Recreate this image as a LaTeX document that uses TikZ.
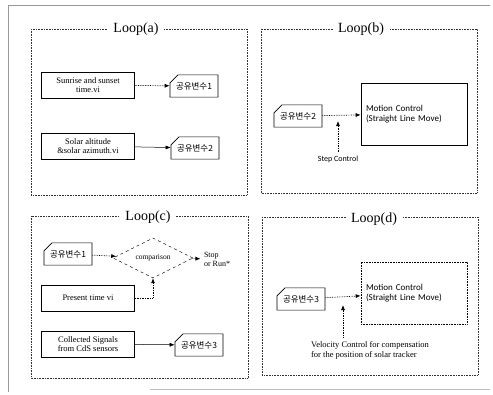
\documentclass[tikz,border=0pt]{standalone}
\usepackage{fontspec}
\setmainfont{Liberation Serif}
\newfontfamily\krfont{Noto Sans CJK KR}
\newfontfamily\calfont{Carlito}
\usetikzlibrary{positioning,shapes.geometric,shapes.misc,arrows.meta}

\tikzset{
  loopframe/.style={draw=black!80, densely dotted, line width=0.6pt},
  looptitle/.style={fill=white, inner xsep=5pt, font=\fontsize{14}{14}\selectfont},
  vibox/.style={draw, line width=0.6pt, minimum width=93pt, minimum height=26pt,
    align=center, inner sep=1pt, font=\fontsize{8.5}{9.5}\selectfont},
  shvar/.style={draw, line width=0.6pt, chamfered rectangle,
    chamfered rectangle corners=north west, chamfered rectangle xsep=4pt,
    chamfered rectangle ysep=4pt, inner xsep=2pt, minimum height=22pt,
    font=\krfont\fontsize{8.5}{9}\selectfont},
  motionbox/.style={draw, line width=0.6pt, minimum width=106pt, minimum height=62pt,
    text width=96pt, align=left, font=\calfont\fontsize{9}{10.5}\selectfont},
  flow/.style={densely dotted, line width=0.7pt, -{Latex[length=5pt,width=4pt]}},
  solidflow/.style={line width=0.5pt, -{Latex[length=5pt,width=4pt]}}
}

\begin{document}
\begin{tikzpicture}[x=1pt,y=-1pt]
    \useasboundingbox (0,0) rectangle (493,394);

    % outer frame
    \draw[gray!80, line width=0.8pt] (490,5) -- (8,5) -- (8,392);
    \draw[gray!50, line width=0.8pt] (150,389) -- (490,389);

    % Loop(a)
    \draw[loopframe] (31,29) rectangle (247,195);
    \node[looptitle] (ta) at (136,29) {Loop(a)};
    \node[vibox] (sunrise) at (88,85) {Sunrise and sunset\\time.vi};
    \node[shvar] (varA1) at (194,86) {공유변수1};
    \node[vibox] (solar) at (88,146) {Solar altitude\\\&solar azimuth.vi};
    \node[shvar] (varA2) at (195,148) {공유변수2};
    \draw[flow] (sunrise) -- (varA1);
    \draw[solidflow] (solar) -- (varA2);

    % Loop(b)
    \draw[loopframe] (261,29) rectangle (477,193);
    \node[looptitle] (tb) at (361,29) {Loop(b)};
    \node[shvar] (varB2) at (298,116) {공유변수2};
    \node[motionbox] (moveB) at (414,114) {Motion Control\\(Straight Line Move)};
    \node[font=\calfont\fontsize{8}{8}\selectfont] (stepctl) at (338,159) {Step Control};
    \coordinate (stepin) at (338,121);
    \draw[flow] (varB2) -- (moveB);
    \draw[flow] (stepctl) -- (stepin);

    % Loop(c)
    \draw[loopframe] (31,216) rectangle (248,378);
    \node[looptitle] (tc) at (148,217) {Loop(c)};
    \node[shvar] (varC1) at (68,254) {공유변수1};
    \node[draw, dashed, diamond, aspect=2.6, inner sep=1pt, minimum width=80pt,
      minimum height=40pt, font=\fontsize{7.5}{8}\selectfont] (cmp) at (153,258) {comparison};
    \node[align=left, font=\fontsize{8}{9}\selectfont] (stop) at (217,259) {Stop\\or Run*};
    \node[vibox] (present) at (88,298) {Present time vi};
    \node[vibox] (collect) at (88,344) {Collected Signals\\from CdS sensors};
    \node[shvar] (varC3) at (199,345) {공유변수3};
    \draw[flow] (varC1) -- (cmp);
    \draw[flow] (cmp) -- (stop);
    \draw[flow] (present.east) -| (cmp.south);
    \draw[solidflow] (collect) -- (varC3);

    % Loop(d)
    \draw[loopframe] (262,217) rectangle (478,375);
    \node[looptitle] (td) at (374,219) {Loop(d)};
    \node[shvar] (varD3) at (301,299) {공유변수3};
    \node[motionbox, densely dotted] (moveD) at (414,293) {Motion Control\\(Straight Line Move)};
    \node[align=left, font=\fontsize{8.5}{10}\selectfont] (velctl) at (370,350)
      {Velocity Control for compensation\\for the position of solar tracker};
    \coordinate (velin) at (343,305);
    \draw[flow] (varD3) -- (moveD);
    \draw[flow] (velctl.north -| velin) -- (velin);
\end{tikzpicture}
\end{document}
